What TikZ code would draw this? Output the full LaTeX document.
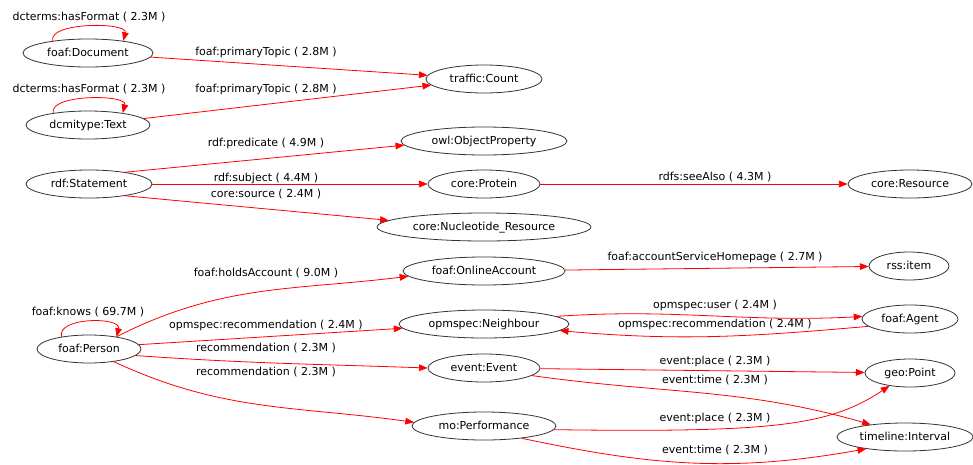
\documentclass[tikz,border=0pt]{standalone}
\usepackage{fontspec}
\setmainfont{DejaVu Sans}
\usetikzlibrary{shapes.geometric,arrows.meta}
\begin{document}
\begin{tikzpicture}[x=0.75pt,y=-0.75pt,
  ell/.style={ellipse,draw=black!80,line width=0.6pt,inner sep=0pt,minimum height=21pt,minimum width=#1,
    font=\fontsize{8.25pt}{10pt}\selectfont,text height=6pt,text depth=1.5pt},
  lbl/.style={inner sep=0pt,font=\fontsize{8.25pt}{10pt}\selectfont,text height=6pt,text depth=1.5pt},
  edge/.style={draw=red,line width=0.6pt,-{Triangle[length=6.5pt,width=5pt]}}]
\useasboundingbox[fill=white] (0,0) rectangle (973,464);

% nodes
\node[ell=97.5pt] (doc) at (88,53) {foaf:Document};
\node[ell=93pt] (txt) at (88,125) {dcmitype:Text};
\node[ell=87pt] (traffic) at (484,79) {traffic:Count};
\node[ell=124.5pt] (owl) at (484,141) {owl:ObjectProperty};
\node[ell=94.5pt] (stmt) at (89,184) {rdf:Statement};
\node[ell=84pt] (protein) at (484,184) {core:Protein};
\node[ell=93pt] (resource) at (910,184) {core:Resource};
\node[ell=160.5pt] (nucl) at (484,227) {core:Nucleotide\_Resource};
\node[ell=121.5pt] (online) at (484,271) {foaf:OnlineAccount};
\node[ell=60pt] (rss) at (909,266) {rss:item};
\node[ell=78pt] (person) at (89,349) {foaf:Person};
\node[ell=127.5pt] (neigh) at (484,324) {opmspec:Neighbour};
\node[ell=72pt] (agent) at (910,319) {foaf:Agent};
\node[ell=84pt] (event) at (484,368) {event:Event};
\node[ell=67.5pt] (geo) at (910,373) {geo:Point};
\node[ell=108pt] (perf) at (484,426) {mo:Performance};
\node[ell=102pt] (interval) at (905,437) {timeline:Interval};

% labels
\node[lbl] (l1) at (89,18) {dcterms:hasFormat ( 2.3M )};
\node[lbl] (l2) at (266,52) {foaf:primaryTopic ( 2.8M )};
\node[lbl] (l3) at (89,89) {dcterms:hasFormat ( 2.3M )};
\node[lbl] (l4) at (266,89) {foaf:primaryTopic ( 2.8M )};
\node[lbl] (l5) at (266,143) {rdf:predicate ( 4.9M )};
\node[lbl] (l6) at (266,178) {rdf:subject ( 4.4M )};
\node[lbl] (l7) at (266,194) {core:source ( 2.4M )};
\node[lbl] (l8) at (715,177) {rdfs:seeAlso ( 4.3M )};
\node[lbl] (l9) at (266,273) {foaf:holdsAccount ( 9.0M )};
\node[lbl] (l10) at (88,312) {foaf:knows ( 69.7M )};
\node[lbl] (l11) at (266,325) {opmspec:recommendation ( 2.4M )};
\node[lbl] (l12) at (266,348) {recommendation ( 2.3M )};
\node[lbl] (l13) at (266,372) {recommendation ( 2.3M )};
\node[lbl] (l14) at (715,257) {foaf:accountServiceHomepage ( 2.7M )};
\node[lbl] (l15) at (715,305) {opmspec:user ( 2.4M )};
\node[lbl] (l16) at (715,324) {opmspec:recommendation ( 2.4M )};
\node[lbl] (l17) at (715,361) {event:place ( 2.3M )};
\node[lbl] (l18) at (715,380) {event:time ( 2.3M )};
\node[lbl] (l19) at (715,418) {event:place ( 2.3M )};
\node[lbl] (l20) at (715,450) {event:time ( 2.3M )};

% edges
\draw[edge] (doc.161) .. controls +(-5,-19) and +(5,-19) .. (doc.19);
\draw[edge] (doc) -- (traffic);
\draw[edge] (txt.161) .. controls +(-5,-19) and +(5,-19) .. (txt.19);
\draw[edge] (txt) -- (traffic);
\draw[edge] (stmt.18) -- (owl.183);
\draw[edge] (stmt) -- (protein);
\draw[edge] (stmt.-18) -- (nucl.176);
\draw[edge] (protein) -- (resource);
\draw[edge] (person.156) .. controls +(-5,-20) and +(5,-20) .. (person.24);
\draw[edge] (person.24) to[out=27,in=187] (online.184);
\draw[edge] (person.5) -- (neigh.183);
\draw[edge] (person.-8) to[out=-4,in=178] (event.180);
\draw[edge] (person.-27) to[out=-25,in=172] (perf.177);
\draw[edge] (online) -- (rss);
\draw[edge] (neigh.6) to[out=4,in=183] (agent.177);
\draw[edge] (agent.190) to[out=185,in=-5] (neigh.-5);
\draw[edge] (event) -- (geo);
\draw[edge] (event.-9) to[out=-8,in=164] (interval.160);
\draw[edge] (perf.-3) .. controls +(220,3) and +(-60,40) .. (geo.212);
\draw[edge] (perf.-18) to[out=-12,in=190] (interval.197);
\end{tikzpicture}
\end{document}
